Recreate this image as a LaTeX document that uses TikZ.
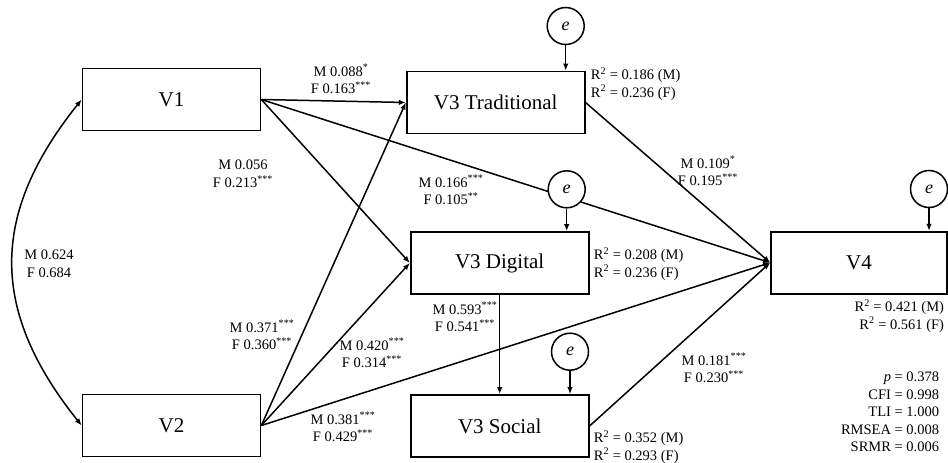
\documentclass[tikz,border=0pt]{standalone}
\usepackage{fontspec}
\setmainfont{Liberation Serif}
\usetikzlibrary{positioning}
\usetikzlibrary{arrows.meta}

\begin{document}
\begin{tikzpicture}[x=1pt,y=1pt,yscale=-1,xscale=1,
  varbox/.style={draw,line width=1.7pt,minimum width=178pt,minimum height=62pt,inner sep=0pt,font=\fontsize{21}{24}\selectfont},
  errnode/.style={draw,circle,line width=1.5pt,minimum size=37pt,inner sep=0pt,fill=white,font=\fontsize{18}{20}\selectfont\itshape},
  coef/.style={align=center,inner sep=0.75pt,font=\fontsize{14.5}{17.5}\selectfont},
  conn/.style={line width=1.5pt,-{Latex[length=7pt,width=5.5pt]}}]
%set diagram left start at 0, and has height of 463
\useasboundingbox (0,0) rectangle (948,463);

%Shape: Rectangle [id:v1]
\draw (171.5,99.5) node [varbox] (v1) {V1};
%Shape: Rectangle [id:v2]
\draw (171.5,425.5) node [varbox] (v2) {V2};
%Shape: Rectangle [id:trad]
\draw (495.7,102.5) node [varbox] (trad) {V3 Traditional};
%Shape: Rectangle [id:dig]
\draw (499.7,263) node [varbox] (dig) {V3 Digital};
%Shape: Rectangle [id:soc]
\draw (499.7,426) node [varbox] (soc) {V3 Social};
%Shape: Rectangle [id:v4]
\draw (859,262.7) node [varbox,minimum width=176pt] (v4) {V4};

% Connection
\draw [conn,{Latex[length=7pt,width=5.5pt]}-{Latex[length=7pt,width=5.5pt]}] (v1.west) .. controls +(-92,115) and +(-92,-115) .. (v2.west);
% Connection
\draw [conn] (v1.east) -- (trad.west);
% Connection
\draw [conn] (v1.east) -- (dig.west);
% Connection
\draw [conn] (v1.east) -- (v4.west);
% Connection
\draw [conn] (v2.east) -- (trad.west);
% Connection
\draw [conn] (v2.east) -- (dig.west);
% Connection
\draw [conn] (v2.east) -- (v4.west);
% Connection
\draw [conn] (trad.east) -- (v4.west);
% Connection
\draw [conn] (dig.south) -- (soc.north);
% Connection
\draw [conn] (soc.east) -- (v4.west);

%Shape: Circle [id:et]
\draw (565.7,26) node [errnode] (et) {e};
%Shape: Circle [id:ed]
\draw (566.7,189.3) node [errnode] (ed) {e};
%Shape: Circle [id:es]
\draw (570,351.7) node [errnode] (es) {e};
%Shape: Circle [id:e4]
\draw (929,189) node [errnode] (e4) {e};
% Connection
\draw [conn] (et) -- (et |- trad.north);
% Connection
\draw [conn] (ed) -- (ed |- dig.north);
% Connection
\draw [conn] (es) -- (es |- soc.north);
% Connection
\draw [conn] (e4) -- (e4 |- v4.north);

% Text Node
\draw (49,264) node [coef] (c12) {M 0.624\\F 0.684};
% Text Node
\draw (341,79) node [coef] (c1t) {M 0.088\textsuperscript{*}\\F 0.163\textsuperscript{***}};
% Text Node
\draw (243,174) node [coef] (c1d) {M 0.056\\F 0.213\textsuperscript{***}};
% Text Node
\draw (451,190) node [coef] (c14) {M 0.166\textsuperscript{***}\\F 0.105\textsuperscript{**}};
% Text Node
\draw (708,171) node [coef] (ct4) {M 0.109\textsuperscript{*}\\F 0.195\textsuperscript{***}};
% Text Node
\draw (262,335) node [coef] (c2t) {M 0.371\textsuperscript{***}\\F 0.360\textsuperscript{***}};
% Text Node
\draw (372,353) node [coef] (c2d) {M 0.420\textsuperscript{***}\\F 0.314\textsuperscript{***}};
% Text Node
\draw (465,317) node [coef] (cds) {M 0.593\textsuperscript{***}\\F 0.541\textsuperscript{***}};
% Text Node
\draw (343,427) node [coef] (c24) {M 0.381\textsuperscript{***}\\F 0.429\textsuperscript{***}};
% Text Node
\draw (714,368) node [coef] (cs4) {M 0.181\textsuperscript{***}\\F 0.230\textsuperscript{***}};

% Text Node
\draw (590,84) node [coef,anchor=west,align=left] (r2t) {R\textsuperscript{2} = 0.186 (M)\\R\textsuperscript{2} = 0.236 (F)};
% Text Node
\draw (593,264) node [coef,anchor=west,align=left] (r2d) {R\textsuperscript{2} = 0.208 (M)\\R\textsuperscript{2} = 0.236 (F)};
% Text Node
\draw (593,447) node [coef,anchor=west,align=left] (r2s) {R\textsuperscript{2} = 0.352 (M)\\R\textsuperscript{2} = 0.293 (F)};
% Text Node
\draw (945,316) node [coef,anchor=east,align=right] (r24) {R\textsuperscript{2} = 0.421 (M)\\R\textsuperscript{2} = 0.561 (F)};
% Text Node
\draw (940,412) node [coef,anchor=east,align=right] (fit) {\textit{p} = 0.378\\CFI = 0.998\\TLI = 1.000\\RMSEA = 0.008\\SRMR = 0.006};

\end{tikzpicture}
\end{document}
